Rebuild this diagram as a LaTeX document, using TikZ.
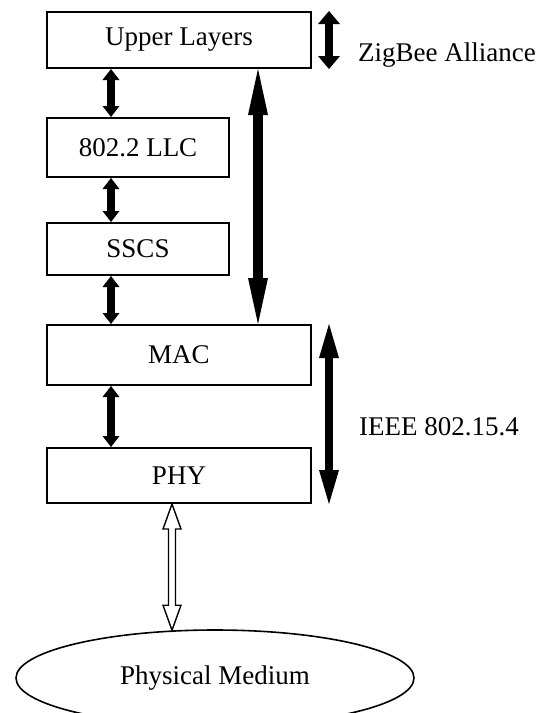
\documentclass[tikz,border=0pt]{standalone}
\usepackage{fontspec}
\setmainfont{Liberation Serif}
\usetikzlibrary{arrows.meta,shapes.geometric,calc}

\tikzset{
  layer/.style={draw, line width=1pt, inner sep=0pt, minimum height=28pt},
  smallarr/.style={line width=3.6pt, {Triangle[length=5.5pt,width=8.5pt,line width=0pt]}-{Triangle[length=5.5pt,width=8.5pt,line width=0pt]}},
  hollowarr/.style={draw, fill=white, line width=0.7pt, line join=miter}
}

\begin{document}
\begin{tikzpicture}[x=0.5pt, y=-0.5pt, every node/.style={font=\fontsize{13.5}{16}\selectfont}]
            \useasboundingbox (0,0) rectangle (542,713);
            % Layer stack
            \node[layer, minimum width=132pt] (up) at (179,40) {Upper Layers};
            \node[layer, minimum width=91pt, minimum height=29.5pt] (llc) at (138,147.5) {802.2 LLC};
            \node[layer, minimum width=91pt, minimum height=26pt] (sscs) at (138,249) {SSCS};
            \node[layer, minimum width=132pt, minimum height=30pt] (mac) at (179,355) {MAC};
            \node[layer, minimum width=132pt, minimum height=27.5pt] (phy) at (179,475.5) {PHY};
            
            % Medium
            \node[ellipse, draw, line width=0.8pt, inner sep=0pt, minimum width=199pt, minimum height=48pt] (med) at (215,678) {Physical Medium};
            
            % Arrow columns
            \coordinate (lcol) at (111,0);
            \coordinate (bcol) at (258,0);
            \coordinate (rcol) at (329,0);
            
            % Between layers
            \draw[smallarr] (up.south -| lcol) -- (llc.north -| lcol);
            \draw[smallarr] (llc.south -| lcol) -- (sscs.north -| lcol);
            \draw[smallarr] (sscs.south -| lcol) -- (mac.north -| lcol);
            \draw[smallarr] (mac.south -| lcol) -- (phy.north -| lcol);
            
            % Upper layers to MAC
            \draw[line width=5pt, {Triangle[length=23pt,width=10pt,line width=0pt]}-{Triangle[length=23pt,width=10pt,line width=0pt]}] (up.south -| bcol) -- (mac.north -| bcol);
            
            % Scopes
            \draw[line width=4pt, {Triangle[length=6.5pt,width=11pt,line width=0pt]}-{Triangle[length=6.5pt,width=11pt,line width=0pt]}] (up.north -| rcol) -- (up.south -| rcol);
            \node[anchor=west] (zb) at (351,55) {ZigBee Alliance};
            \draw[line width=4.4pt, {Triangle[length=17pt,width=10pt,line width=0pt]}-{Triangle[length=17pt,width=10pt,line width=0pt]}] (mac.north -| rcol) -- (phy.south -| rcol);
            \node[anchor=west] (ieee) at (352,427) {IEEE 802.15.4};
            
            % PHY to medium
            \coordinate (ht) at ($(phy.south)+(-7,0)$);
            \coordinate (hb) at ($(med.north)+(-43,1)$);
            \path[hollowarr] (ht) -- ($(ht)+(9,25)$) -- ($(ht)+(3.5,25)$) -- ($(hb)+(3.5,-25)$) -- ($(hb)+(9,-25)$) -- (hb)
              -- ($(hb)+(-9,-25)$) -- ($(hb)+(-3.5,-25)$) -- ($(ht)+(-3.5,25)$) -- ($(ht)+(-9,25)$) -- cycle;
        \end{tikzpicture}
\end{document}
